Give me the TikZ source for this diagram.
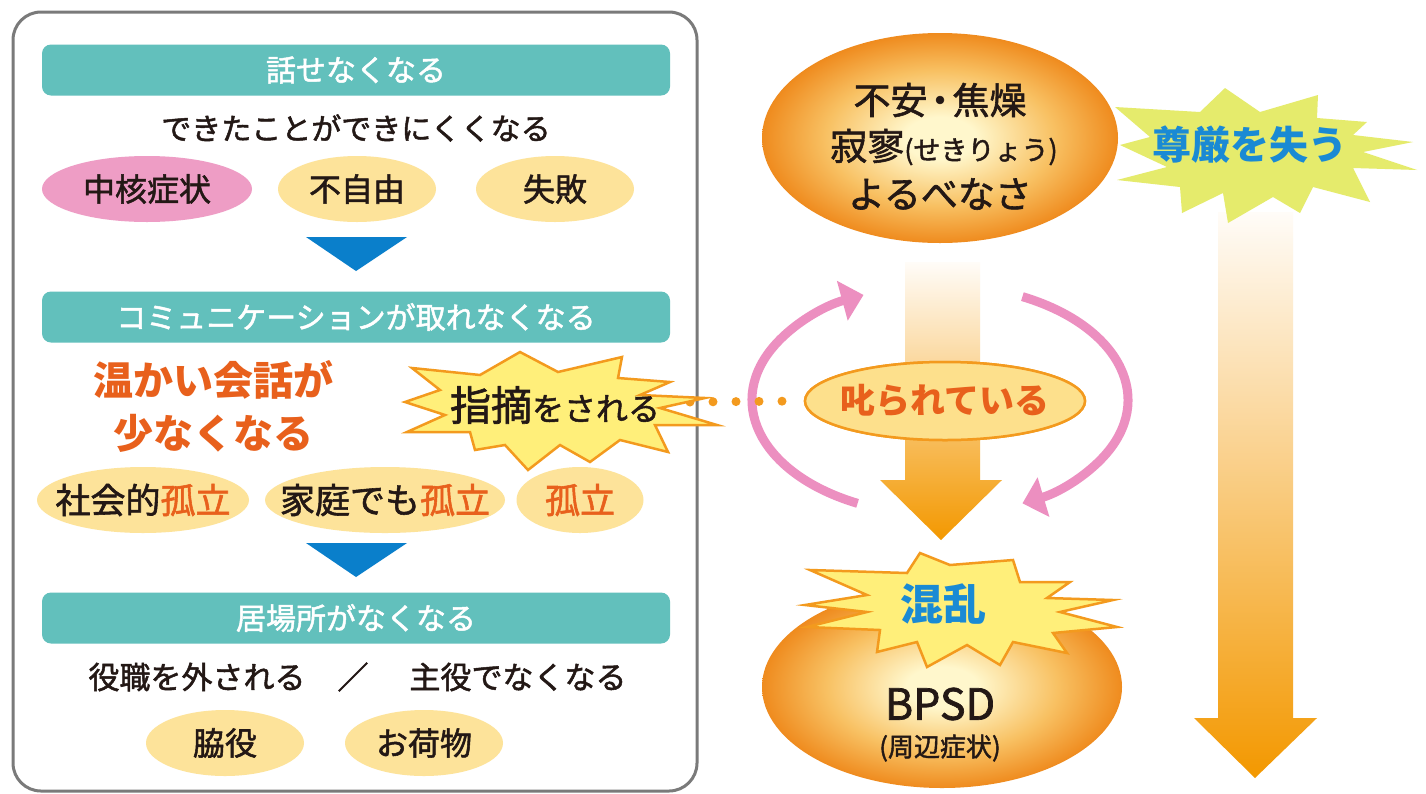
\documentclass[tikz,border=0pt]{standalone}
\usepackage{fontspec}
\setmainfont{Noto Sans CJK JP}[UprightFeatures={FakeBold=1.6}]
\usetikzlibrary{shapes.geometric,arrows.meta}
\definecolor{teal1}{HTML}{62C0BC}
\definecolor{pinkE}{HTML}{EE9DC5}
\definecolor{yelE}{HTML}{FDE39A}
\definecolor{blueT}{HTML}{0A7FCB}
\definecolor{orTxt}{HTML}{E8601C}
\definecolor{boxG}{HTML}{7A7A7A}
\definecolor{burstY}{HTML}{FFEF7A}
\definecolor{burstO}{HTML}{F39A1E}
\definecolor{lime}{HTML}{E5EB6C}
\definecolor{blueTxt}{HTML}{1A8AD4}
\definecolor{scoldF}{HTML}{FDE08C}
\definecolor{arrO}{HTML}{F39800}
\definecolor{arrW}{HTML}{FFFCF8}
\definecolor{pinkA}{HTML}{EC8FC0}
\definecolor{glowA}{HTML}{FFF7CC}
\definecolor{glowB}{HTML}{F8C163}
\definecolor{glowC}{HTML}{EF8B1E}
\definecolor{txtK}{HTML}{231815}
\pgfdeclareradialshading{glow}{\pgfpoint{0bp}{0bp}}{color(0bp)=(glowA); color(5bp)=(glowA); color(16bp)=(glowB); color(25bp)=(glowC); color(50bp)=(glowC)}
\newcommand\myfs[1]{\fontsize{#1}{#1}\selectfont}
\tikzset{
  bar/.style={fill=teal1, rounded corners=9pt, minimum width=628pt, minimum height=51pt, inner sep=0pt, text=white, font=\myfs{30}},
  oval/.style={ellipse, fill=yelE, minimum height=66pt, inner xsep=-80pt, inner ysep=-30pt, text=txtK, font=\myfs{32}},
  plain/.style={inner sep=0pt, text=txtK, font=\myfs{31}},
  warm/.style={inner sep=0pt, text=orTxt, font=\myfs{40}\bfseries},
  tri/.style={fill=blueT},
  burstA/.style={fill=burstY, draw=burstO, line width=2.5pt},
  burstL/.style={fill=lime},
  bigglow/.style={ellipse, shading=glow, inner sep=0pt},
  blue/.style={inner sep=0pt, text=blueTxt, font=\myfs{39}\bfseries},
  pinkarc/.style={pinkA, line width=9pt, -{Triangle[length=22pt,width=40pt]}},
  dots/.style={burstO, line width=9pt, line cap=round, dash pattern=on 0pt off 23pt},
  grad/.style={top color=arrW, bottom color=arrO},
  scoldbox/.style={ellipse, fill=scoldF, draw=burstO, line width=2.5pt, minimum width=280pt, minimum height=78pt, inner xsep=-60pt, inner ysep=-20pt, text=orTxt, font=\myfs{35}\bfseries}
}
\begin{document}
\begin{tikzpicture}[x=1pt,y=1pt]
\useasboundingbox (0,0) rectangle (1426,-793);
\fill[white] (0,0) rectangle (1426,-793);

% ---------------- left panel ----------------
\draw[boxG, line width=3pt, rounded corners=28pt] (13,-12) rectangle (697,-791);

\node[bar] (h1) at (356,-70) {話せなくなる};
\node[plain, font=\myfs{30}] (t1) at (356,-128) {できたことができにくくなる};
\node[oval, fill=pinkE, minimum width=210pt] (e1) at (147,-189) {中核症状};
\node[oval, minimum width=158pt] (e2) at (357,-189) {不自由};
\node[oval, minimum width=158pt] (e3) at (555,-189) {失敗};
\fill[tri] (306,-237) -- (407,-237) -- (356,-271) -- cycle;

\node[bar] (h2) at (356,-317) {コミュニケーションが取れなくなる};
\node[warm] (w1) at (213,-380) {温かい会話が};
\node[warm] (w2) at (213,-433) {少なくなる};

\node[oval, minimum width=212pt, font=\myfs{35}] (i1) at (143,-500) {社会的{\color{orTxt}孤立}};
\node[oval, minimum width=240pt, font=\myfs{35}] (i2) at (385,-500) {家庭でも{\color{orTxt}孤立}};
\node[oval, minimum width=127pt, font=\myfs{35}, text=orTxt] (i3) at (580,-500) {孤立};
\fill[tri] (306,-543) -- (407,-543) -- (356,-577) -- cycle;

\node[bar] (h3) at (356,-618) {居場所がなくなる};
\node[plain] (r1) at (197,-677) {役職を外される};
\node[plain] (r2) at (353,-677) {／};
\node[plain] (r3) at (518,-677) {主役でなくなる};
\node[oval, minimum width=158pt] (s1) at (225,-743) {脇役};
\node[oval, minimum width=158pt] (s2) at (424,-743) {お荷物};

% ---------------- right side ----------------
\shade[grad] (1218,-212) -- (1293,-212) -- (1293,-718) -- (1317,-718) -- (1255,-778) -- (1194,-718) -- (1218,-718) -- cycle;
\shade[grad] (905,-262) -- (980,-262) -- (980,-480) -- (1002,-480) -- (941,-540) -- (880,-480) -- (905,-480) -- cycle;

\node[bigglow, minimum width=356pt, minimum height=210pt] (anx) at (940,-138) {};
\node[plain, font=\myfs{37}] (a1) at (940,-100) {不安{\kern-6pt}・{\kern-6pt}焦燥};
\node[plain, font=\myfs{37}] (a2) at (944,-147) {寂寥{\myfs{27}(せきりょう)}};
\node[plain, font=\myfs{37}] (a3) at (940,-194) {よるべなさ};

\fill[burstL] (1115,-107) -- (1200,-112) -- (1225,-88) -- (1260,-112) -- (1318,-95) -- (1317,-118) -- (1367,-122) -- (1353,-135) -- (1413,-142) -- (1363,-152) -- (1417,-170) -- (1353,-168) -- (1370,-202) -- (1313,-187) -- (1300,-213) -- (1273,-197) -- (1228,-223) -- (1223,-193) -- (1182,-213) -- (1180,-187) -- (1117,-180) -- (1167,-167) -- (1120,-145) -- (1150,-137) -- cycle;
\node[blue] (dg) at (1250,-145) {尊厳を失う};

\coordinate (cyc) at (940,-400);
\draw[pinkarc] (cyc) ++(244:188pt and 115pt) arc[start angle=244, end angle=114, x radius=188, y radius=115];
\draw[pinkarc] (cyc) ++(64:188pt and 115pt) arc[start angle=64, end angle=-64, x radius=188, y radius=115];

\coordinate (sbR) at (690,-402);
\node[scoldbox] (scold) at (945,-401) {叱られている};
\draw[dots] (sbR) -- (scold.west);
\node[scoldbox] at (scold) {叱られている};

\draw[burstA] (520,-352) -- (558,-372) -- (622,-357) -- (618,-378) -- (670,-382) -- (640,-395) -- (705,-398) -- (660,-408) -- (717,-425) -- (655,-425) -- (668,-452) -- (620,-440) -- (590,-462) -- (560,-445) -- (528,-470) -- (505,-445) -- (475,-450) -- (470,-432) -- (407,-432) -- (445,-415) -- (405,-402) -- (440,-390) -- (412,-368) -- (480,-375) -- cycle;
\node[plain, font=\myfs{32}] (pt) at (555,-405) {{\myfs{41}指摘}をされる};

\node[bigglow, minimum width=360pt, minimum height=202pt] (bpsd) at (942,-687) {};
\node[plain, font=\myfs{43}] (b1) at (940,-704) {BPSD};
\node[plain, font=\myfs{26}] (b2) at (940,-748) {(周辺症状)};

\draw[burstA] (810,-570) -- (907,-573) -- (920,-553) -- (950,-565) -- (1013,-560) -- (1020,-582) -- (1070,-582) -- (1047,-598) -- (1113,-600) -- (1060,-612) -- (1117,-627) -- (1053,-633) -- (1067,-653) -- (1013,-642) -- (1000,-665) -- (967,-645) -- (927,-667) -- (917,-642) -- (877,-652) -- (880,-630) -- (807,-627) -- (867,-612) -- (805,-605) -- (867,-595) -- cycle;
\node[blue, font=\myfs{43}\bfseries] (cf) at (943,-604) {混乱};
\end{tikzpicture}
\end{document}
